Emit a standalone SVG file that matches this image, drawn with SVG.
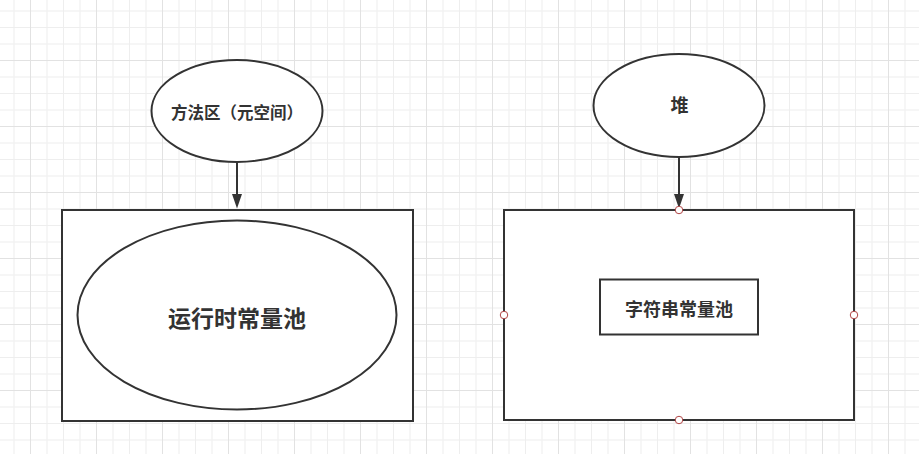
<svg xmlns="http://www.w3.org/2000/svg" width="919" height="454" viewBox="0 0 919 454">
<defs>
<pattern id="grid" patternUnits="userSpaceOnUse" x="30" y="60" width="66" height="66">
<rect x="16.5" y="0" width="1" height="66" fill="#eeeeee"/>
<rect x="33" y="0" width="1" height="66" fill="#eeeeee"/>
<rect x="49.5" y="0" width="1" height="66" fill="#eeeeee"/>
<rect x="0" y="16.5" width="66" height="1" fill="#eeeeee"/>
<rect x="0" y="33" width="66" height="1" fill="#eeeeee"/>
<rect x="0" y="49.5" width="66" height="1" fill="#eeeeee"/>
<rect x="0" y="0" width="1" height="66" fill="#e2e2e2"/>
<rect x="0" y="0" width="66" height="1" fill="#e2e2e2"/>
</pattern>
<path id="arrowhead" d="M-5,-14.5 L0,0 L5,-14.5 Z" fill="#333333"/>
</defs>
<style>
.shape{fill:#ffffff;stroke:#333333;stroke-width:2}
.edge{stroke:#333333;stroke-width:2;fill:none}
.lbl{font-family:"Noto Sans CJK SC","Noto Sans",sans-serif;font-weight:bold;fill:#333333;text-anchor:middle;dominant-baseline:central}
.port{fill:#ffffff;stroke:#b04545;stroke-width:1}
</style>
<rect width="919" height="454" fill="#ffffff"/>
<rect width="919" height="454" fill="url(#grid)"/>
<g id="connectors">
<line class="edge" x1="237" y1="162" x2="237" y2="196"/>
<use href="#arrowhead" x="237" y="208.5"/>
<line class="edge" x1="679" y1="157" x2="679" y2="196"/>
<use href="#arrowhead" x="679" y="208.5"/>
</g>
<g id="method-area">
<ellipse class="shape" cx="237" cy="111" rx="85.5" ry="51"/>
<text class="lbl" x="237" y="112" font-size="16.5">方法区（元空间）</text>
</g>
<g id="runtime-box">
<rect class="shape" x="62" y="210" width="351" height="211"/>
</g>
<g id="runtime-pool">
<ellipse class="shape" cx="237" cy="315" rx="159.5" ry="94.5"/>
<text class="lbl" x="237" y="317" font-size="23">运行时常量池</text>
</g>
<g id="heap">
<ellipse class="shape" cx="679" cy="105.5" rx="85.5" ry="51.5"/>
<text class="lbl" x="679.5" y="103.5" font-size="18">堆</text>
</g>
<g id="heap-box">
<rect class="shape" x="504" y="210" width="350" height="210"/>
<circle class="port" cx="679" cy="210" r="3.75"/>
<circle class="port" cx="504" cy="315" r="3.75"/>
<circle class="port" cx="854" cy="315" r="3.75"/>
<circle class="port" cx="679" cy="420" r="3.75"/>
</g>
<g id="string-pool">
<rect class="shape" x="600" y="279.5" width="158" height="55"/>
<text class="lbl" x="679" y="308" font-size="18">字符串常量池</text>
</g>
</svg>
